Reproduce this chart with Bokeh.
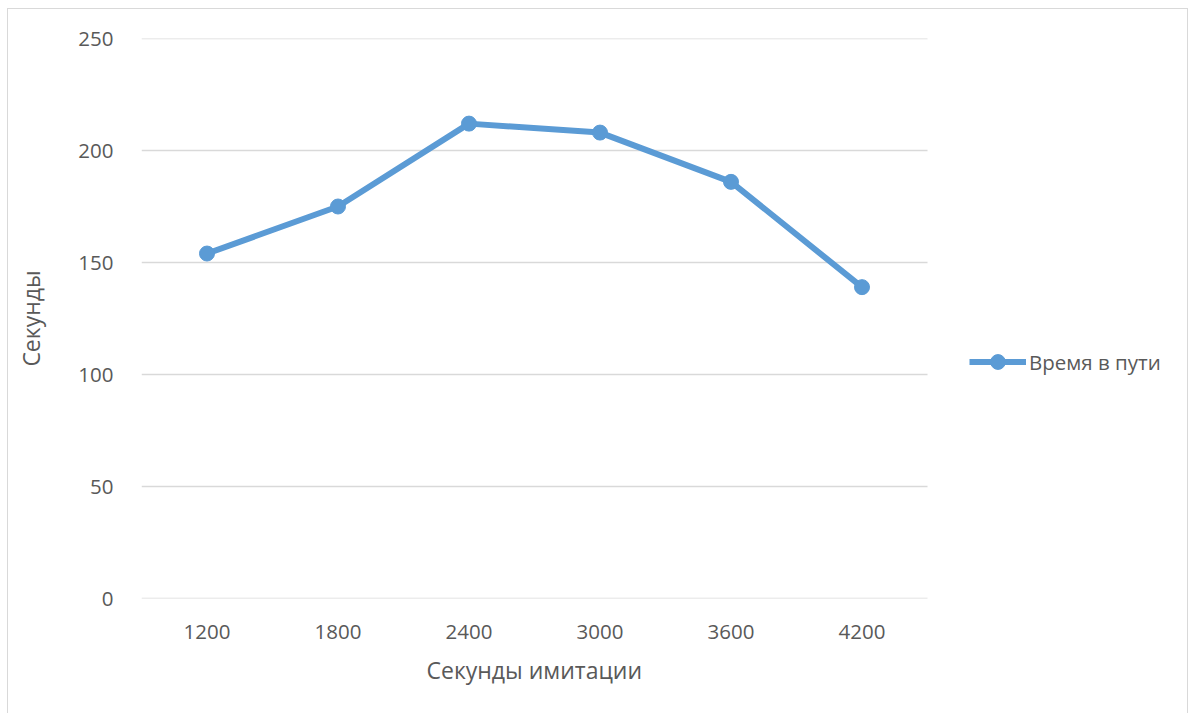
from bokeh.plotting import figure
from bokeh.models import FactorRange, Range1d, Legend, LegendItem, FixedTicker, ColumnDataSource, Title
from bokeh.transform import dodge
from bokeh.embed import file_html
from bokeh.resources import INLINE

categories = ["1200", "1800", "2400", "3000", "3600", "4200"]
travel_time = [154, 175, 212, 208, 186, 139]
y_ticks = [0, 50, 100, 150, 200, 250]
series_name = "Время в пути"
x_title = "Секунды имитации"
y_title = "Секунды"

FONT = "Open Sans"
TEXT = "#595959"
BLUE = "#5B9BD5"
GRID = "#d9d9d9"

# two blank slots on the right leave room for the legend inside the frame
p = figure(width=1181, height=705, output_backend="svg", toolbar_location=None,
           x_range=FactorRange(factors=categories + [" ", "  "], range_padding=0),
           y_range=Range1d(0, 250),
           min_border_left=133, min_border_right=0, min_border_top=29, min_border_bottom=116)
p.styles = {"margin-left": "7px", "margin-top": "8px", "border": "1px solid " + GRID,
            "border-bottom": "none", "box-sizing": "border-box"}
p.outline_line_color = None
p.border_fill_color = "white"
p.background_fill_color = "white"

# horizontal gridlines spanning only the six category bands
grid_src = ColumnDataSource(dict(y=y_ticks, x0=[categories[0]] * len(y_ticks),
                                 x1=[categories[-1]] * len(y_ticks)))
gr = p.segment(x0=dodge("x0", -0.5, range=p.x_range), x1=dodge("x1", 0.5, range=p.x_range),
               y0="y", y1="y", source=grid_src, line_color=GRID, line_width=1.5)
gr.level = "underlay"

src = ColumnDataSource(dict(x=categories, y=travel_time))
ln = p.line("x", "y", source=src, line_color=BLUE, line_width=6, line_join="round")
mk = p.scatter("x", "y", source=src, size=15, fill_color=BLUE, line_color=BLUE)

p.xgrid.grid_line_color = None
p.ygrid.grid_line_color = None
p.yaxis.ticker = FixedTicker(ticks=y_ticks)

for ax in (p.xaxis[0], p.yaxis[0]):
    ax.axis_line_color = None
    ax.major_tick_line_color = None
    ax.minor_tick_line_color = None
    ax.major_label_text_font = FONT
    ax.major_label_text_font_size = "20.5px"
    ax.major_label_text_color = TEXT
    ax.axis_label_text_font = FONT
    ax.axis_label_text_font_size = "23px"
    ax.axis_label_text_color = TEXT
    ax.axis_label_text_font_style = "normal"

p.yaxis.major_label_standoff = 22
p.yaxis.axis_label = y_title
p.yaxis.axis_label_standoff = 28
p.xaxis.major_label_standoff = 12

xt = Title(text=x_title, align="left", offset=285, standoff=8,
           text_font=FONT, text_font_size="23px", text_color=TEXT, text_font_style="normal")
p.add_layout(xt, "below")

legend = Legend(items=[LegendItem(label=series_name, renderers=[ln, mk])],
                location=(828, 218), orientation="vertical",
                glyph_width=57, glyph_height=37, label_standoff=3, padding=0, margin=0,
                border_line_color=None, background_fill_alpha=0,
                label_text_font=FONT, label_text_font_size="20.5px", label_text_color=TEXT)
p.add_layout(legend, "center")

open("out.html", "w").write(file_html(p, INLINE))
